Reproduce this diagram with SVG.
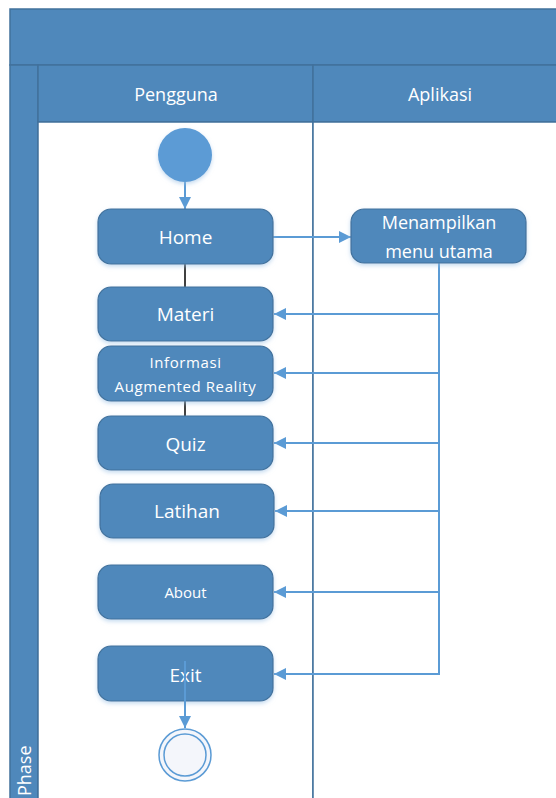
<svg xmlns="http://www.w3.org/2000/svg" width="556" height="798" viewBox="0 0 556 798">
<style>
.band{fill:#4F88BB;stroke:#41719C;stroke-width:1.5}
.lane{fill:#ffffff;stroke:#41719C;stroke-width:1.5}
.node{fill:#4F88BB;stroke:#41719C;stroke-width:1.2;filter:url(#sh)}
.t{fill:#ffffff;font-family:"Open Sans","Noto Sans",sans-serif;text-anchor:middle}
.ts{fill:#ffffff;font-family:"Open Sans","Noto Sans",sans-serif;text-anchor:start}
.c{fill:none;stroke:#5B9BD5;stroke-width:2}
.k{fill:none;stroke:#000000;stroke-width:1.5}
</style>
<defs>
<filter id="sh" x="-10%" y="-10%" width="130%" height="140%">
<feDropShadow dx="0" dy="2" stdDeviation="2" flood-color="#9DC3E6" flood-opacity="0.6"/>
</filter>
<marker id="ah" viewBox="0 0 10 10" refX="10" refY="5" markerWidth="12" markerHeight="12" markerUnits="userSpaceOnUse" orient="auto">
<path d="M0,0 L10,5 L0,10 z" fill="#5B9BD5"/>
</marker>
</defs>
<rect width="556" height="798" fill="#ffffff"/>
<g id="pool">
<rect class="band" x="10" y="9" width="560" height="56"/>
<rect class="band" x="10" y="65" width="28" height="740"/>
<rect class="band" x="38" y="65" width="275" height="57"/>
<rect class="band" x="313" y="65" width="260" height="57"/>
<rect class="lane" x="38" y="122" width="275" height="690"/>
<rect class="lane" x="313" y="122" width="260" height="690"/>
<text class="t" x="176" y="101" font-size="18">Pengguna</text>
<text class="t" x="440" y="101" font-size="18">Aplikasi</text>
<text class="ts" x="0" y="0" font-size="18" transform="translate(31,796) rotate(-90)">Phase</text>
</g>
<g id="connectors">
<line class="c" x1="185" y1="182" x2="185" y2="209" marker-end="url(#ah)"/>
<line class="c" x1="273" y1="237" x2="351" y2="237" marker-end="url(#ah)"/>
<line class="k" x1="185" y1="264" x2="185" y2="287"/>
<line class="k" x1="185" y1="401" x2="185" y2="416"/>
<polyline class="c" points="439,263 439,674 274,674" marker-end="url(#ah)"/>
<line class="c" x1="439" y1="314" x2="274" y2="314" marker-end="url(#ah)"/>
<line class="c" x1="439" y1="373" x2="274" y2="373" marker-end="url(#ah)"/>
<line class="c" x1="439" y1="443" x2="274" y2="443" marker-end="url(#ah)"/>
<line class="c" x1="439" y1="511" x2="275" y2="511" marker-end="url(#ah)"/>
<line class="c" x1="439" y1="592" x2="274" y2="592" marker-end="url(#ah)"/>
</g>
<g id="start"><circle cx="185" cy="155" r="27" fill="#5B9BD5" filter="url(#sh)"/></g>
<g id="home"><rect class="node" x="98" y="209" width="175" height="55" rx="13"/><text class="t" x="185.5" y="244" font-size="19">Home</text></g>
<g id="menu"><rect class="node" x="351" y="209" width="175" height="54" rx="13"/><text class="t" x="439" y="229" font-size="18">Menampilkan</text><text class="t" x="439" y="258" font-size="18">menu utama</text></g>
<g id="materi"><rect class="node" x="98" y="287" width="175" height="54" rx="13"/><text class="t" x="185.5" y="321" font-size="19">Materi</text></g>
<g id="informasi"><rect class="node" x="98" y="346" width="175" height="55" rx="13"/><text class="t" x="185.5" y="368" font-size="15" letter-spacing="0.6">Informasi</text><text class="t" x="185.5" y="392" font-size="15" letter-spacing="0.6">Augmented Reality</text></g>
<g id="quiz"><rect class="node" x="98" y="416" width="175" height="54" rx="13"/><text class="t" x="185.5" y="451" font-size="19">Quiz</text></g>
<g id="latihan"><rect class="node" x="100" y="484" width="174" height="54" rx="13"/><text class="t" x="187" y="518" font-size="19">Latihan</text></g>
<g id="about"><rect class="node" x="98" y="565" width="175" height="54" rx="13"/><text class="t" x="185.5" y="598" font-size="15">About</text></g>
<g id="exit"><rect class="node" x="98" y="646" width="175" height="55" rx="13"/><text class="t" x="185.5" y="682" font-size="19">Exit</text></g>
<g id="exitarrow"><line class="c" x1="185" y1="661" x2="185" y2="728" marker-end="url(#ah)" stroke-width="1.5"/></g>
<g id="end"><circle cx="185" cy="755" r="26" fill="#F4F6FB" stroke="#5B9BD5" stroke-width="1.5"/><circle cx="185" cy="755" r="21" fill="none" stroke="#5B9BD5" stroke-width="1.5"/></g>
</svg>
